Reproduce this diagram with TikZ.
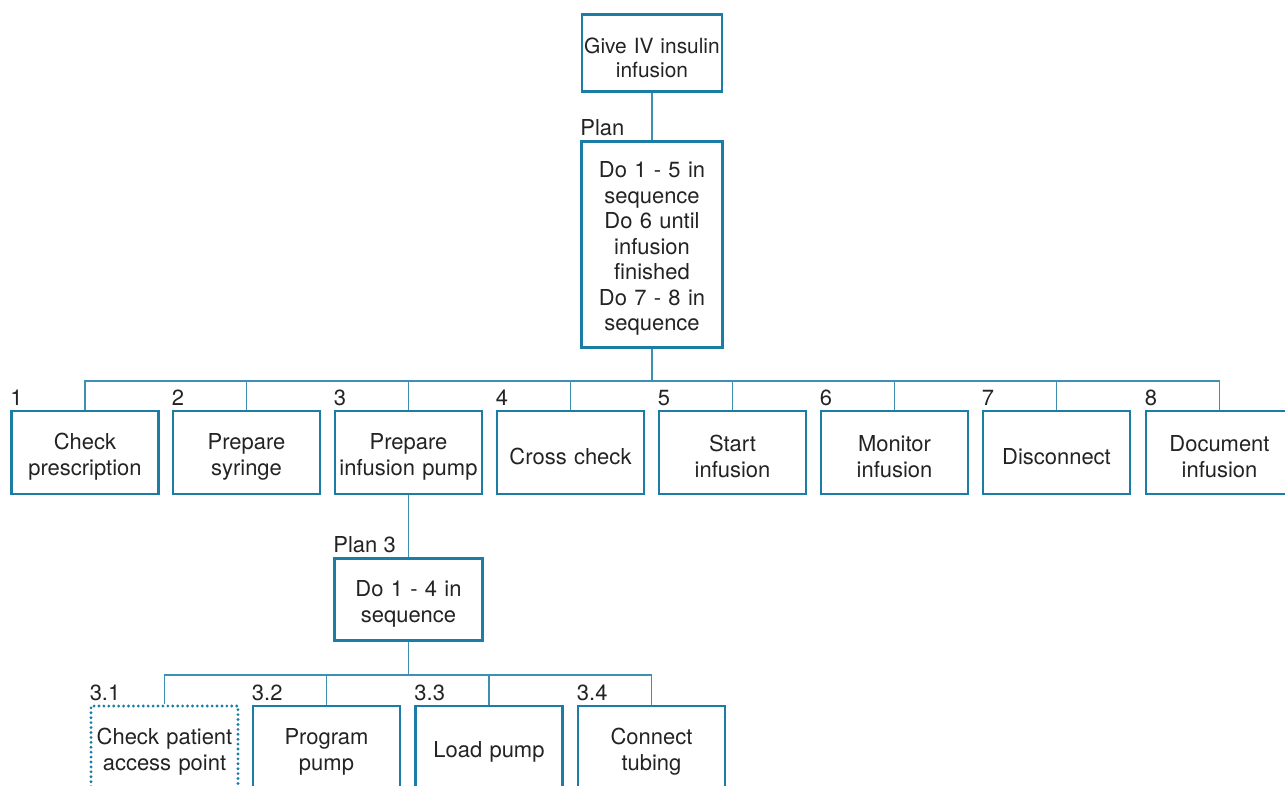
\documentclass[tikz,border=0pt]{standalone}
\usepackage{fontspec}
\setmainfont{TeX Gyre Heros}
\usepackage{xcolor}
\usepackage{tikz}
\definecolor{htablue}{RGB}{27,125,165}
\definecolor{htatext}{RGB}{35,35,35}

\begin{document}
\begin{tikzpicture}%
                    [x=0.02cm, y=-0.02cm,
                    task/.style={draw=htablue, line width=1.6pt, align=center, text width=2.94cm,
                                 inner xsep=0pt, inner ysep=2pt,
                                 text=htatext, minimum height=1.66cm,
                                 font=\fontsize{12.5}{14.5}\selectfont,
                                 execute at begin node={\rule{0pt}{14pt}}},
                    opttask/.style={task, line cap=round, dash pattern=on 0pt off 2.8pt, line width=1.8pt},
                    tasknum/.style={anchor=south west, inner sep=0pt, yshift=2pt, text=htatext,
                                 font=\fontsize{12.5}{14.5}\selectfont},
                    link/.style={draw=htablue!85, line width=0.8pt}]
                \useasboundingbox (0,0) rectangle (1285,785);
                \clip (0,0) rectangle (1285,785);
                %% Goal and plan
                \node[task, text width=2.8cm, minimum height=1.54cm, font=\fontsize{11.9}{13.8}\selectfont]
                    (goal) at (652,53) {Give IV insulin\\infusion};
                \node[task, text width=2.82cm, minimum height=4.12cm] (plan) at (652,244.5)
                    {Do 1 - 5 in\\sequence\\Do 6 until\\infusion\\finished\\Do 7 - 8 in\\sequence};
                \node[tasknum] (planlbl) at (plan.north west) {Plan};
                \draw[link] (goal.south) -- (plan.north);
                %%
                %% Subtasks 1 - 8
                %%
                \node[task] (t1) at (85,452.5) {Check\\prescription};
                \node[task] (t2) at (246.5,452.5) {Prepare\\syringe};
                \node[task] (t3) at (408.5,452.5) {Prepare\\infusion pump};
                \node[task] (t4) at (570.5,452.5) {Cross check};
                \node[task] (t5) at (732.5,452.5) {Start\\infusion};
                \node[task] (t6) at (894.5,452.5) {Monitor\\infusion};
                \node[task] (t7) at (1056.5,452.5) {Disconnect};
                \node[task] (t8) at (1219.5,452.5) {Document\\infusion};
                \foreach \i in {1,...,8}{
                    \node[tasknum] (n\i) at (t\i.north west) {\i};
                    \draw[link] (plan.south) -- ++(0,32) -| (t\i.north);
                }
                %%
                %% Plan 3 and its subtasks
                %%
                \node[task, text width=2.96cm, minimum height=1.64cm] (plan3) at (408.5,599.5) {Do 1 - 4 in\\sequence};
                \node[tasknum] (plan3lbl) at (plan3.north west) {Plan 3};
                \draw[link] (t3.south) -- (plan3.north);
                \node[opttask] (s1) at (164.5,747.5) {Check patient\\access point};
                \node[task] (s2) at (326.5,747.5) {Program\\pump};
                \node[task] (s3) at (489,747.5) {Load pump};
                \node[task] (s4) at (651.5,747.5) {Connect\\tubing};
                \foreach \i in {1,...,4}{
                    \node[tasknum] (m\i) at (s\i.north west) {3.\i};
                    \draw[link] (plan3.south) -- ++(0,33) -| (s\i.north);
                }
\end{tikzpicture}
\end{document}
